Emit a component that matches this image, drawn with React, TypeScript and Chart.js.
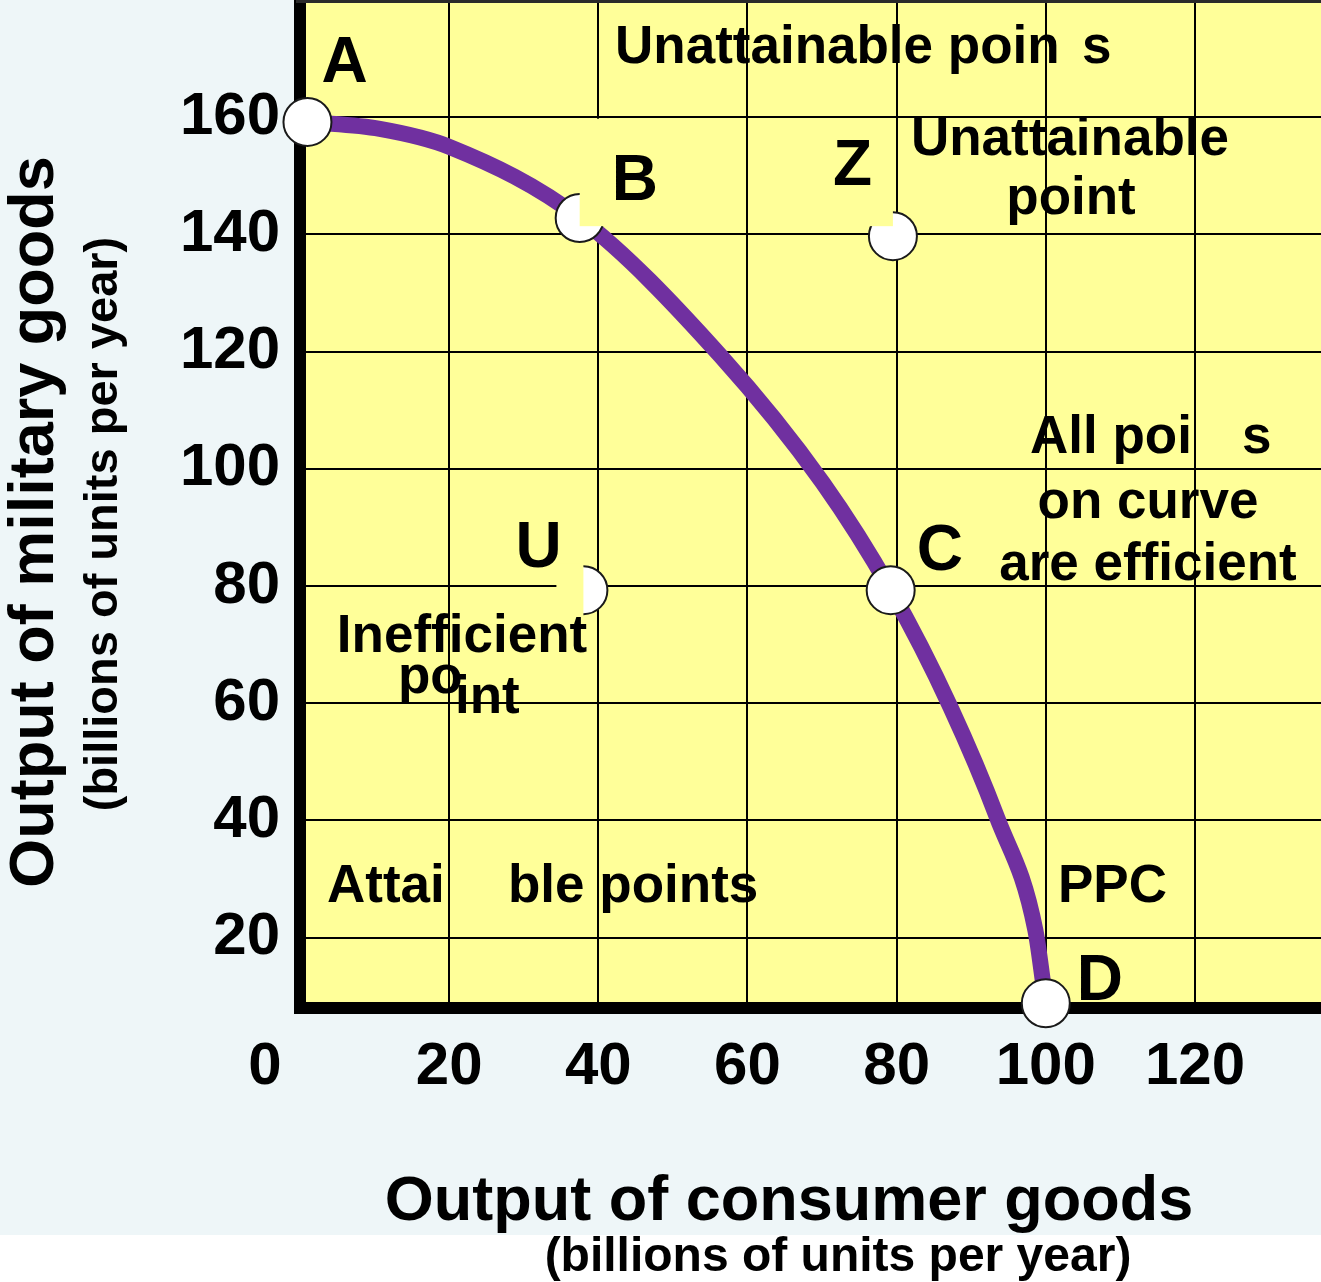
import React, { useEffect, useRef } from 'react';
import { Chart, registerables } from 'chart.js';

Chart.register(...registerables);

// ---- data ----
const xTickValues = [0, 20, 40, 60, 80, 100, 120];
const yTickValues = [20, 40, 60, 80, 100, 120, 140, 160];
const X_MIN = 0;
const X_MAX = 136.9;
const Y_MIN = 8;
const Y_MAX = 180;

const pointNames = ['A', 'B', 'Z', 'U', 'C', 'D'];
const pointX = [1, 37.5, 79.5, 38, 79.2, 100];
const pointY = [159.2, 142.8, 139.7, 79.3, 79.3, 8.8];

const curveX = [1, 10.7, 20.1, 37.5, 56.3, 70.1, 79.2, 87.2, 93.5, 98.6, 100];
const curveY = [159.2, 158.0, 154.9, 142.8, 119.4, 97.6, 79.3, 59.4, 40.4, 21.3, 8.8];

const xTitle = 'Output of consumer goods';
const yTitle = 'Output of military goods';
const unitsSubtitle = '(billions of units per year)';

const FONT = '"Liberation Sans", Arial, Helvetica, sans-serif';
const YELLOW = '#FFFF99';
const BLUE_BG = '#EEF6F8';
const PURPLE = '#7030A0';

export default function App() {
  const ref = useRef<HTMLCanvasElement>(null);

  useEffect(() => {
    document.body.style.margin = '0';
    const canvas = ref.current;
    if (!canvas) return;

    const bgPlugin = {
      id: 'bg',
      beforeDraw(chart: any) {
        const { ctx, chartArea: a, width, height } = chart;
        ctx.save();
        ctx.fillStyle = '#ffffff';
        ctx.fillRect(0, 0, width, height);
        ctx.fillStyle = BLUE_BG;
        ctx.fillRect(0, 0, width, 1235);
        ctx.fillStyle = YELLOW;
        ctx.fillRect(a.left, a.top, a.right - a.left, a.bottom - a.top);
        ctx.restore();
      },
    };

    const overlayPlugin = {
      id: 'overlay',
      afterDatasetsDraw(chart: any) {
        const { ctx, chartArea: a } = chart;
        const xs = chart.scales.x;
        const ys = chart.scales.y;
        const px = (v: number) => xs.getPixelForValue(v);
        const py = (v: number) => ys.getPixelForValue(v);
        ctx.save();

        // thin top border
        ctx.fillStyle = '#2a2a2a';
        ctx.fillRect(a.left - 4, 0, a.right - a.left + 4, 3);

        // label background patches
        const bi = pointNames.indexOf('B');
        const zi = pointNames.indexOf('Z');
        const ui = pointNames.indexOf('U');
        ctx.fillStyle = YELLOW;
        const top = py(160) + 1.5;
        const bottom = py(pointY[zi]) - 10;
        const g60 = px(60);
        ctx.fillRect(px(pointX[bi]), top, g60 - 1.5 - px(pointX[bi]), bottom - top);
        ctx.fillRect(g60 + 1.5, top, px(pointX[zi]) - g60 - 1.5, bottom - top);
        ctx.fillRect(px(pointX[ui]) - 27, py(pointY[ui]) - 27, 27, 54);

        const text = (s: string, x: number, y: number, size: number, align: CanvasTextAlign = 'left') => {
          ctx.font = `bold ${size}px ${FONT}`;
          ctx.textAlign = align;
          ctx.textBaseline = 'alphabetic';
          ctx.fillStyle = '#000';
          ctx.fillText(s, x, y);
        };

        // point letters, placed relative to their markers
        const offsets: Record<string, [number, number]> = {
          A: [14, -40], B: [32, -18], Z: [-60, -51], U: [-68, -23], C: [26, -20], D: [31, -3],
        };
        pointNames.forEach((n, i) => {
          const [dx, dy] = offsets[n];
          text(n, px(pointX[i]) + dx, py(pointY[i]) + dy, 64);
        });

        // annotations
        text('Unattainable poin', 615, 63, 53);
        text('s', 1082, 63, 53);
        text('Unattainable', 1070, 155, 53, 'center');
        text('point', 1071, 214, 53, 'center');
        text('All poi', 1030, 453, 53);
        text('s', 1242, 453, 53);
        text('on curve', 1148, 518, 53, 'center');
        text('are efficient', 1148, 580, 53, 'center');
        text('Inefficient', 462, 652, 53, 'center');
        text('po', 398, 693, 53);
        text('int', 455, 713, 53);
        text('Attai', 327, 902, 53);
        text('ble points', 508, 902, 53);
        text('PPC', 1058, 902, 53);

        // "0" tick label, set left of the origin
        ctx.font = `bold 60px ${FONT}`;
        ctx.textAlign = 'center';
        ctx.textBaseline = 'middle';
        ctx.fillText('0', px(0) - 35, xs.top + 59);

        // axis titles
        text(xTitle, 789, 1220, 63, 'center');
        text(unitsSubtitle, 838, 1271, 48, 'center');

        ctx.save();
        ctx.translate(53, 522);
        ctx.rotate(-Math.PI / 2);
        text(yTitle, 0, 0, 63, 'center');
        ctx.restore();

        ctx.save();
        ctx.translate(117, 524);
        ctx.rotate(-Math.PI / 2);
        text(unitsSubtitle, 0, 0, 47, 'center');
        ctx.restore();

        ctx.restore();
      },
    };

    const tickFont = { family: FONT, size: 60, weight: 'bold' as const };

    const chart = new Chart(canvas, {
      type: 'scatter',
      data: {
        datasets: [
          {
            label: 'Points',
            data: pointX.map((x, i) => ({ x, y: pointY[i] })),
            pointRadius: 24,
            pointHoverRadius: 24,
            pointBackgroundColor: '#ffffff',
            pointBorderColor: '#1a1a1a',
            pointBorderWidth: 2,
            showLine: false,
            order: 0,
            clip: false as any,
          },
          {
            label: 'PPC',
            data: curveX.map((x, i) => ({ x, y: curveY[i] })),
            showLine: true,
            borderColor: PURPLE,
            borderWidth: 16,
            borderCapStyle: 'round',
            borderJoinStyle: 'round',
            cubicInterpolationMode: 'monotone',
            pointRadius: 0,
            pointHoverRadius: 0,
            order: 1,
            clip: false as any,
          },
        ],
      },
      options: {
        animation: false,
        responsive: false,
        devicePixelRatio: 1,
        layout: { padding: 0, autoPadding: false },
        events: [],
        plugins: {
          legend: { display: false },
          tooltip: { enabled: false },
          title: { display: false },
        },
        scales: {
          x: {
            type: 'linear',
            position: 'bottom',
            min: X_MIN,
            max: X_MAX,
            afterBuildTicks: (s: any) => {
              s.ticks = xTickValues.map((v) => ({ value: v }));
            },
            afterFit: (s: any) => {
              s.height = 1282 - 1008;
              s.paddingLeft = 0;
              s.paddingRight = 0;
            },
            grid: { color: '#000', lineWidth: 2, drawTicks: false },
            border: { display: true, color: '#000', width: 12 },
            ticks: {
              font: tickFont,
              color: '#000',
              padding: 23,
              maxRotation: 0,
              autoSkip: false,
              callback: (v: any) => (Number(v) === 0 ? '' : String(v)),
            },
          },
          y: {
            type: 'linear',
            position: 'left',
            min: Y_MIN,
            max: Y_MAX,
            afterBuildTicks: (s: any) => {
              s.ticks = yTickValues.map((v) => ({ value: v }));
            },
            afterFit: (s: any) => {
              s.width = 300;
              s.paddingTop = 0;
              s.paddingBottom = 0;
            },
            grid: { color: '#000', lineWidth: 2, drawTicks: false },
            border: { display: true, color: '#000', width: 12 },
            ticks: {
              font: tickFont,
              color: '#000',
              padding: 20,
              autoSkip: false,
              callback: (v: any) => String(v),
            },
          },
        },
      },
      plugins: [bgPlugin, overlayPlugin],
    } as any);

    return () => chart.destroy();
  }, []);

  return (
    <div style={{ position: 'absolute', left: 0, top: 0, width: 1321, height: 1282 }}>
      <canvas ref={ref} width={1321} height={1282} style={{ width: 1321, height: 1282, display: 'block' }} />
    </div>
  );
}
